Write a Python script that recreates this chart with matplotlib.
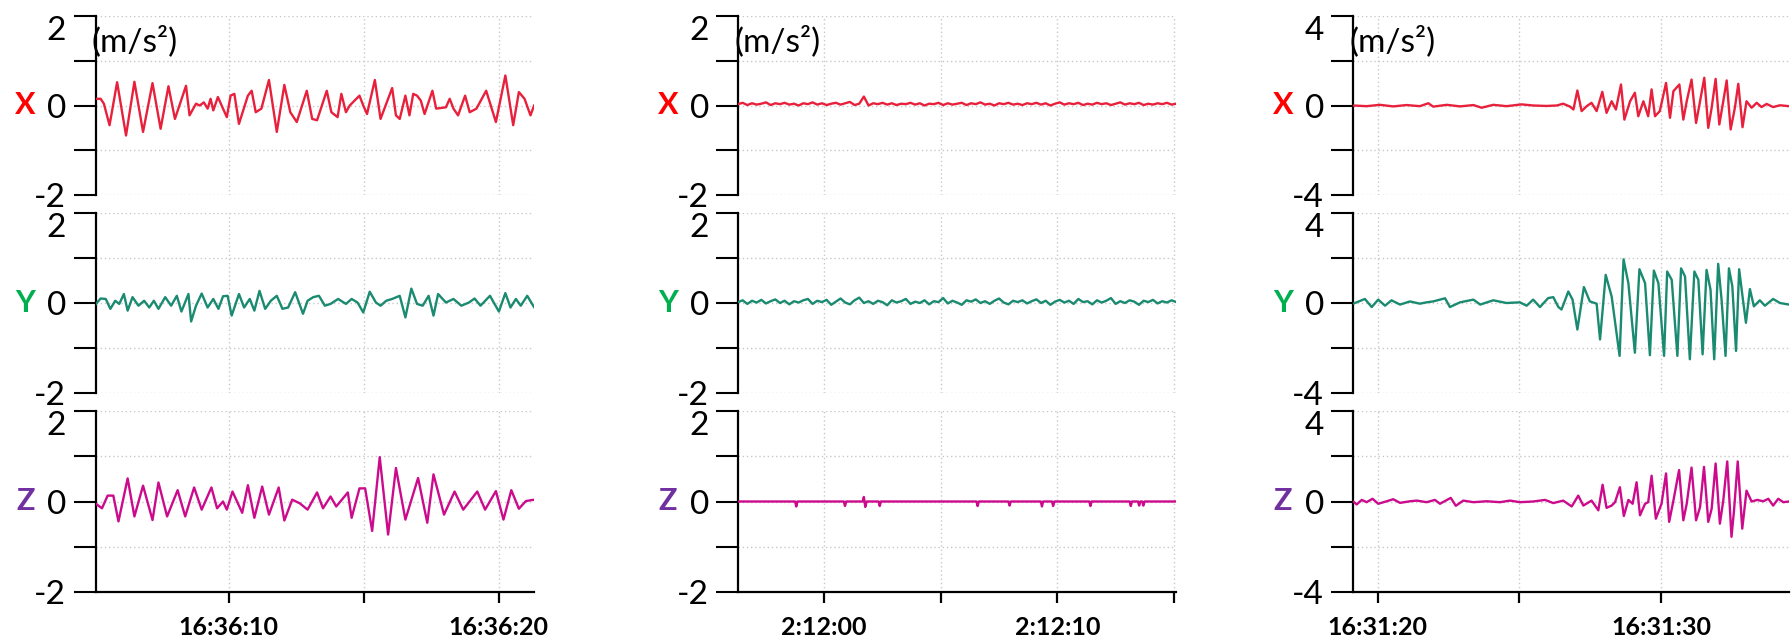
import numpy as np
import matplotlib
matplotlib.use("Agg")
import matplotlib.pyplot as plt

plt.rcParams['font.family'] = ['Lato', 'DejaVu Sans']

# ---------------- data (seconds after the minute, acceleration m/s^2) ----------------
# Left column : 16:36:xx
left_t_x = [5.06, 5.26, 5.38, 5.59, 5.87, 6.20, 6.51, 6.83, 7.18, 7.48, 7.77, 8.01, 8.42, 8.55, 8.79,
            8.93, 9.08, 9.22, 9.33, 9.43, 9.60, 9.79, 9.93, 10.07, 10.21, 10.38, 10.71, 10.85, 11.00,
            11.21, 11.49, 11.78, 12.06, 12.28, 12.52, 12.89, 13.09, 13.27, 13.63, 13.80, 14.03, 14.17,
            14.34, 14.48, 14.84, 14.98, 15.12, 15.41, 15.62, 16.05, 16.19, 16.33, 16.54, 16.69, 16.83,
            16.97, 17.11, 17.25, 17.54, 17.68, 18.04, 18.18, 18.32, 18.49, 18.75, 18.92, 19.17, 19.53,
            19.89, 20.24, 20.53, 20.74, 20.95, 21.17, 21.31]
left_x = [0.15, 0.15, 0.04, -0.44, 0.52, -0.67, 0.53, -0.59, 0.50, -0.52, 0.43, -0.30, 0.44, -0.22, 0.04,
          0.00, 0.07, -0.07, 0.15, -0.11, 0.19, -0.07, -0.26, 0.22, 0.26, -0.41, 0.22, 0.33, -0.15,
          -0.07, 0.57, -0.59, 0.46, -0.15, -0.37, 0.33, -0.30, -0.33, 0.33, -0.15, -0.26, 0.26,
          -0.15, 0.00, 0.22, 0.00, -0.19, 0.57, -0.30, 0.39, -0.22, -0.30, 0.22, -0.22, 0.26,
          0.22, 0.11, -0.19, 0.33, -0.07, -0.04, 0.15, -0.07, -0.22, 0.22, -0.15, -0.07, 0.33,
          -0.37, 0.67, -0.44, 0.30, 0.15, -0.22, 0.01]

left_t_y = [5.06, 5.26, 5.45, 5.62, 5.80, 5.95, 6.12, 6.26, 6.44, 6.66, 6.87, 7.06, 7.23, 7.40, 7.65,
            7.87, 8.08, 8.25, 8.51, 8.61, 8.79, 9.00, 9.22, 9.43, 9.62, 9.79, 9.96, 10.11, 10.38, 10.57,
            10.78, 10.95, 11.14, 11.35, 11.56, 11.78, 11.99, 12.20, 12.46, 12.75, 12.92, 13.13, 13.34,
            13.56, 13.77, 14.05, 14.34, 14.55, 14.77, 14.98, 15.22, 15.45, 15.62, 15.83, 16.05, 16.33,
            16.54, 16.76, 16.97, 17.18, 17.40, 17.58, 17.75, 18.04, 18.32, 18.61, 18.89, 19.10, 19.32,
            19.67, 20.00, 20.24, 20.43, 20.63, 20.81, 21.05, 21.31]
left_y = [-0.04, 0.10, 0.09, -0.13, 0.05, -0.02, 0.20, -0.17, 0.13, -0.06, 0.05, -0.10, 0.05, -0.13, 0.13,
          -0.06, 0.16, -0.19, 0.20, -0.41, -0.06, 0.21, -0.10, 0.09, -0.13, 0.15, 0.16, -0.28, 0.20, -0.10,
          0.09, -0.17, 0.27, -0.13, 0.05, 0.16, -0.13, -0.10, 0.24, -0.24, 0.05, 0.13, 0.16,
          -0.06, -0.02, 0.09, -0.02, 0.09, 0.01, -0.21, 0.25, 0.01, -0.06, 0.05, 0.09, 0.16,
          -0.32, 0.32, -0.02, -0.06, 0.16, -0.28, 0.20, 0.01, 0.09, -0.06, 0.01, 0.10, -0.06,
          0.16, -0.19, 0.22, -0.10, 0.09, -0.06, 0.16, -0.10]

left_t_z = [5.06, 5.31, 5.52, 5.73, 5.92, 6.26, 6.51, 6.83, 7.18, 7.40, 7.72, 8.11, 8.39, 8.72, 9.00,
            9.36, 9.57, 9.79, 9.93, 10.14, 10.50, 10.71, 10.95, 11.24, 11.49, 11.85, 12.06, 12.35, 12.63,
            12.92, 13.27, 13.49, 13.77, 13.98, 14.41, 14.55, 14.84, 15.05, 15.31, 15.59, 15.90, 16.19,
            16.54, 17.01, 17.35, 17.58, 17.97, 18.36, 18.68, 19.20, 19.49, 19.89, 20.17, 20.46, 20.74,
            21.00, 21.31]
left_z = [-0.04, -0.15, 0.13, 0.13, -0.44, 0.51, -0.33, 0.35, -0.41, 0.42, -0.33, 0.25, -0.33, 0.31, -0.18,
          0.31, -0.15, 0.00, -0.18, 0.22, -0.25, 0.36, -0.36, 0.33, -0.29, 0.31, -0.42, 0.04, -0.04,
          -0.18, 0.20, -0.15, 0.11, -0.11, 0.20, -0.36, 0.29, 0.29, -0.65, 0.98, -0.73, 0.74,
          -0.40, 0.52, -0.47, 0.60, -0.29, 0.22, -0.18, 0.22, -0.18, 0.23, -0.40, 0.25, -0.16,
          0.01, 0.04]

# Middle column : 2:12:xx  (values sampled every 0.2 s from -3.7 s)
mid_t0, mid_dt = -3.7, 0.2
mid_x = [0.03, 0.06, 0.01, 0.05, 0.02, 0.04, 0.07, 0.01, 0.05, 0.03,
         0.06, 0.02, 0.04, 0.00, 0.05, 0.03, 0.07, 0.02, 0.05, 0.01,
         0.04, 0.06, 0.02, 0.05, 0.08, 0.01, 0.04, 0.20, 0.00, 0.05,
         0.03, 0.06, 0.02, 0.05, 0.01, 0.04, 0.03, 0.06, 0.02, 0.05,
         0.00, 0.04, 0.03, 0.06, 0.01, 0.05, 0.02, 0.04, 0.06, 0.01,
         0.05, 0.03, 0.07, 0.02, 0.04, 0.00, 0.05, 0.03, 0.06, 0.02,
         0.04, 0.01, 0.05, 0.03, 0.06, 0.02, 0.05, 0.00, 0.04, 0.07,
         0.02, 0.05, 0.03, 0.06, 0.01, 0.04, 0.02, 0.06, 0.03, 0.05,
         0.01, 0.04, 0.07, 0.02, 0.05, 0.03, 0.06, 0.01, 0.04, 0.02,
         0.05, 0.03, 0.06, 0.02, 0.04]
mid_y = [0.02, 0.06, -0.02, 0.05, 0.01, 0.07, -0.01, 0.04, 0.08, 0.00,
         0.05, -0.03, 0.04, 0.01, 0.06, 0.09, -0.02, 0.05, 0.02, 0.07,
         -0.04, 0.03, 0.10, 0.01, -0.03, 0.06, 0.12, 0.00, 0.04, -0.02,
         0.05, 0.02, -0.05, 0.06, 0.01, 0.04, 0.09, -0.02, 0.03, 0.00,
         0.06, -0.03, 0.04, 0.02, 0.11, -0.01, 0.05, 0.01, -0.04, 0.06,
         0.03, 0.08, 0.00, 0.04, -0.02, 0.05, 0.10, 0.01, -0.03, 0.05,
         0.02, 0.06, -0.01, 0.04, 0.08, 0.00, 0.05, -0.04, 0.03, 0.07,
         0.01, 0.05, -0.02, 0.09, 0.02, 0.04, -0.03, 0.06, 0.01, 0.05,
         0.11, -0.02, 0.04, 0.00, 0.06, 0.03, -0.04, 0.05, 0.02, 0.07,
         -0.01, 0.04, 0.01, 0.06, 0.02]
mid_t_z = [-3.7, -1.25, -1.20, -1.15, 0.84, 0.89, 0.94, 1.65, 1.70, 1.76, 1.82, 2.33, 2.38, 2.43,
           6.53, 6.58, 6.63, 7.90, 7.95, 8.00, 9.29, 9.34, 9.39, 9.77, 9.82, 9.87, 11.37, 11.42, 11.47,
           13.10, 13.15, 13.20, 13.46, 13.51, 13.56, 13.64, 13.69, 13.74, 15.1]
mid_z = [0, 0, -0.11, 0, 0, -0.10, 0, 0, 0.10, -0.12, 0, 0, -0.10, 0,
         0, -0.10, 0, 0, -0.09, 0, 0, -0.11, 0, 0, -0.10, 0, 0, -0.10, 0,
         0, -0.10, 0, 0, -0.09, 0, 0, -0.09, 0, 0]

# Right column : 16:31:xx
right_t_x = [19.14, 19.61, 20.08, 20.55, 21.02, 21.49, 21.79, 21.96, 22.44, 22.91, 23.38, 23.67, 24.08,
             24.55, 25.08, 25.49, 25.96, 26.32, 26.55, 26.79, 26.91, 27.05, 27.20, 27.38, 27.55, 27.73,
             27.93, 28.08, 28.26, 28.41, 28.59, 28.71, 28.91, 29.08, 29.20, 29.38, 29.55, 29.67, 29.79,
             29.96, 30.18, 30.32, 30.44, 30.65, 30.79, 30.91, 31.08, 31.24, 31.38, 31.53, 31.67, 31.79,
             31.93, 32.06, 32.20, 32.32, 32.46, 32.61, 32.73, 32.88, 33.02, 33.20, 33.38, 33.55, 33.73,
             33.96, 34.20, 34.52]
right_x = [0.00, -0.03, 0.03, -0.04, 0.02, -0.03, 0.10, -0.05, 0.03, -0.04, 0.02, -0.10, 0.03,
           -0.03, 0.05, 0.00, -0.02, 0.00, 0.08, -0.05, -0.18, 0.67, -0.25, -0.03, 0.12, -0.25,
           0.61, -0.33, 0.19, -0.18, 0.94, -0.63, 0.19, 0.57, -0.48, 0.19, -0.48, 0.72, -0.48,
           -0.25, 1.01, -0.55, 0.64, 0.94, -0.63, 0.19, 1.16, -0.78, 0.19, 1.24, -1.00, -0.10,
           1.19, -0.85, 0.19, 1.12, -1.07, -0.10, 0.97, -0.97, 0.19, -0.10, 0.12, -0.07, 0.07,
           -0.07, 0.01, -0.03]

right_t_y = [19.14, 19.55, 19.79, 20.02, 20.26, 20.49, 20.79, 21.14, 21.49, 21.73, 21.96, 22.38, 22.55,
             22.91, 23.38, 23.62, 24.08, 24.55, 25.02, 25.26, 25.49, 25.73, 26.02, 26.20, 26.38, 26.49,
             26.73, 26.88, 27.05, 27.28, 27.49, 27.73, 27.85, 28.05, 28.26, 28.54, 28.68, 28.85, 29.08,
             29.24, 29.44, 29.61, 29.75, 29.91, 30.11, 30.22, 30.38, 30.58, 30.71, 30.85, 31.02, 31.18,
             31.32, 31.47, 31.61, 31.75, 31.88, 32.02, 32.14, 32.28, 32.40, 32.52, 32.65, 32.76, 32.88,
             33.00, 33.14, 33.28, 33.49, 33.67, 33.96, 34.20, 34.52]
right_y = [-0.03, 0.18, -0.18, 0.15, -0.12, 0.12, -0.07, 0.07, -0.03, 0.03, 0.07, 0.21, -0.18,
           0.03, 0.15, -0.07, 0.12, 0.00, 0.03, -0.12, 0.15, -0.18, 0.22, 0.26, -0.18, -0.29,
           0.51, 0.15, -1.18, 0.71, 0.07, -0.03, -1.62, 1.25, 0.29, -2.35, 1.94, 0.88, -2.21,
           1.50, 0.88, -2.32, 1.44, 0.88, -2.35, 1.40, 1.03, -2.35, 1.54, 1.18, -2.50, 1.40,
           1.03, -2.28, 1.47, 0.59, -2.50, 1.74, 0.15, -2.35, 1.54, 0.74, -2.13, 1.50, 0.29,
           -0.88, 0.62, -0.15, 0.12, -0.12, 0.18, 0.00, -0.07]

right_t_z = [19.14, 19.26, 19.44, 19.61, 19.82, 20.02, 20.32, 20.55, 20.79, 21.14, 21.38, 21.73, 22.02,
             22.20, 22.58, 22.76, 23.02, 23.38, 23.85, 24.32, 24.67, 25.02, 25.49, 25.91, 26.20, 26.55,
             26.85, 27.08, 27.26, 27.55, 27.79, 27.94, 28.08, 28.26, 28.38, 28.55, 28.69, 28.85, 29.00,
             29.14, 29.26, 29.44, 29.55, 29.67, 29.82, 30.02, 30.18, 30.29, 30.44, 30.64, 30.79, 30.91,
             31.08, 31.24, 31.38, 31.52, 31.67, 31.79, 31.93, 32.08, 32.20, 32.34, 32.49, 32.58, 32.71,
             32.87, 33.02, 33.20, 33.40, 33.61, 33.79, 33.96, 34.14, 34.32, 34.52]
right_z = [0.00, -0.13, 0.07, -0.03, 0.12, -0.10, 0.01, 0.10, -0.06, 0.01, 0.04, -0.03, 0.07,
           -0.10, 0.16, -0.19, 0.04, -0.03, 0.01, -0.03, 0.04, -0.03, 0.00, 0.07, -0.07, 0.04,
           -0.22, 0.26, -0.18, 0.04, -0.39, 0.74, -0.28, -0.18, -0.03, 0.63, -0.64, 0.07, -0.10,
           0.85, -0.61, -0.10, -0.03, 1.14, -0.76, -0.10, 1.24, -0.90, 0.04, 1.39, -0.83, -0.10,
           1.50, -0.83, -0.25, 1.53, -0.90, -0.32, 1.68, -0.98, 0.04, 1.77, -1.56, -0.39, 1.77,
           -1.20, 0.48, 0.00, 0.07, 0.01, 0.12, -0.18, 0.12, -0.03, 0.00]

# axis settings per column
col_xlim = [(5.07, 21.30), (-3.70, 15.09), (19.13, 34.52)]
col_xticks = [[10, 15, 20], [0, 5, 10, 15], [20, 25, 30]]
col_xticklabels = [['16:36:10', '', '16:36:20'],
                   ['2:12:00', '', '2:12:10', ''],
                   ['16:31:20', '', '16:31:30']]
col_ylim = [2, 2, 4]
col_yticks = [[-2, -1, 0, 1, 2], [-2, -1, 0, 1, 2], [-4, -2, 0, 2, 4]]
col_yticklabels = [['-2', '', '0', '', '2'], ['-2', '', '0', '', '2'], ['-4', '', '0', '', '4']]

mid_t = [mid_t0 + i * mid_dt for i in range(len(mid_x))]
series = [
    [(left_t_x, left_x), (left_t_y, left_y), (left_t_z, left_z)],
    [(mid_t, mid_x), (mid_t, mid_y), (mid_t_z, mid_z)],
    [(right_t_x, right_x), (right_t_y, right_y), (right_t_z, right_z)],
]
axis_names = ['X', 'Y', 'Z']
name_colors = ['#ff0000', '#00b050', '#7030a0']
line_colors = ['#e8203c', '#1a8a70', '#cc0a8c']

# ---------------- layout ----------------
W, H = 1792, 644
fig = plt.figure(figsize=(W / 100, H / 100), dpi=100)
cols_px = [(95.5, 534), (738, 1176), (1353, 1789)]
rows_px = [(16, 195), (213, 393), (411, 592)]

for ci, (x0, x1) in enumerate(cols_px):
    for ri, (y0, y1) in enumerate(rows_px):
        ax = fig.add_axes([x0 / W, 1 - y1 / H, (x1 - x0) / W, (y1 - y0) / H])
        t, v = series[ci][ri]
        ax.plot(t, v, color=line_colors[ri], lw=1.7, zorder=3,
                solid_joinstyle='round', solid_capstyle='round')
        ax.set_xlim(*col_xlim[ci])
        ax.set_ylim(-col_ylim[ci], col_ylim[ci])
        ax.set_yticks(col_yticks[ci])
        ax.set_yticklabels(col_yticklabels[ci])
        ax.set_xticks(col_xticks[ci])
        ax.grid(True, color='#c8c8c8', linestyle=(0, (1, 2)), linewidth=1.0, zorder=0)
        for s in ['top', 'right']:
            ax.spines[s].set_visible(False)
        ax.spines['left'].set_linewidth(1.6)
        ax.spines['left'].set_color('black')
        ax.tick_params(axis='y', direction='out', length=16, width=1.5, pad=5,
                       labelsize=24, colors='black')
        yt = ax.yaxis.get_major_ticks()
        for tk, lab in zip(yt, col_yticklabels[ci]):
            if lab == '':
                tk.tick1line.set_color('#555555')
        # top label hangs below its tick, bottom label sits slightly above
        yt[-1].label1.set_va('top')
        yt[0].label1.set_va('center_baseline')
        if ri == 2:
            ax.spines['bottom'].set_linewidth(1.6)
            ax.spines['bottom'].set_color('black')
            ax.set_xticklabels(col_xticklabels[ci])
            ax.tick_params(axis='x', direction='out', length=8, width=1.6, pad=9,
                           labelsize=18)
            for lbl in ax.get_xticklabels():
                lbl.set_fontweight('bold')
        else:
            ax.spines['bottom'].set_visible(False)
            ax.tick_params(axis='x', bottom=False, labelbottom=False)
        ax.set_facecolor('none')
        ax.annotate(axis_names[ri], xy=(0, 0), xycoords=('axes fraction', 'data'),
                    xytext=(-70, 0), textcoords='offset pixels', ha='center', va='center',
                    fontsize=22, fontweight='bold', color=name_colors[ri], annotation_clip=False)
        if ri == 0:
            ax.annotate('(m/s²)', xy=(0, 1), xycoords='axes fraction', xytext=(-4, -25),
                        textcoords='offset pixels', ha='left', va='center', fontsize=24,
                        annotation_clip=False)

fig.savefig('out.png', dpi=100)
